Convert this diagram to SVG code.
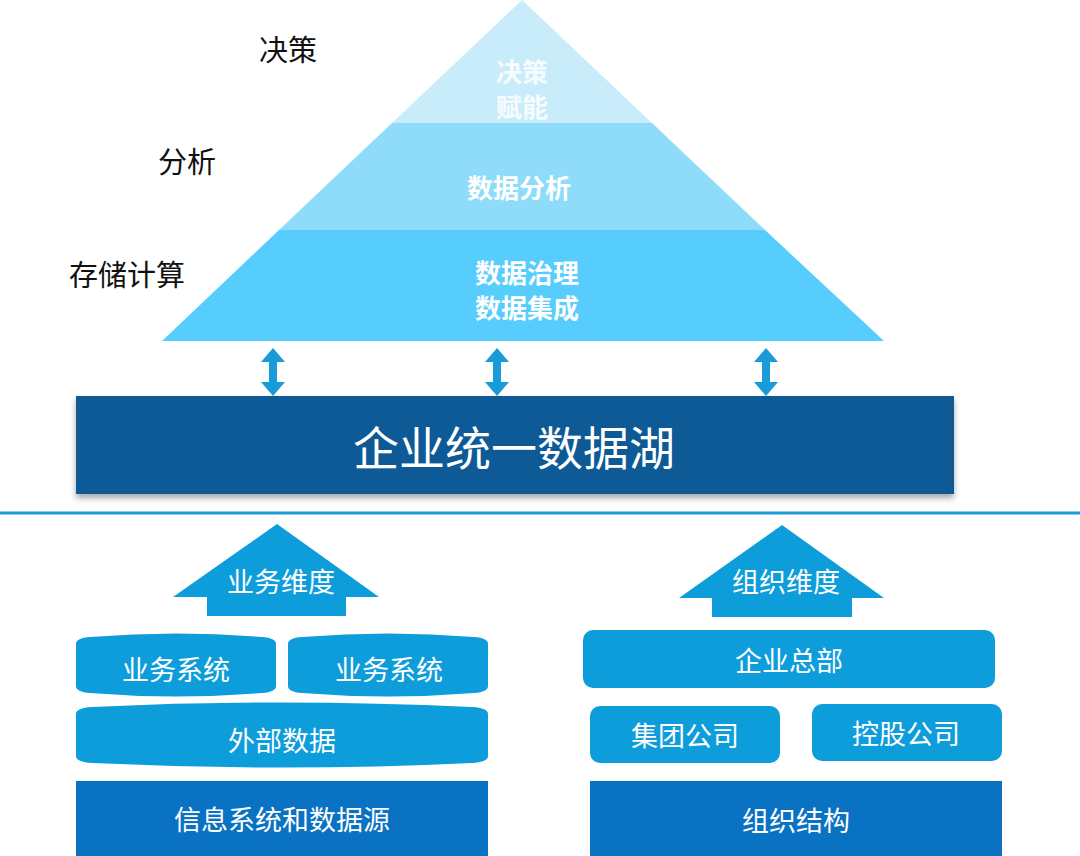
<svg xmlns="http://www.w3.org/2000/svg" width="1080" height="856" viewBox="0 0 1080 856">
<defs>
<style>
text{font-family:"Noto Sans CJK SC","Noto Sans",sans-serif;text-anchor:middle;dominant-baseline:central}
.lbl{fill:#111;font-size:29px}
.pyr{fill:#fff;font-size:26px;font-weight:bold}
.w{fill:#fff;font-size:27px}
.mid{fill:#0e9ddb}
.deep{fill:#0a72c2}
.arr{fill:#189bd8}
</style>
<filter id="sh" x="-5%" y="-20%" width="110%" height="150%">
<feDropShadow dx="0" dy="4" stdDeviation="3" flood-color="#000" flood-opacity="0.35"/>
</filter>
</defs>
<g id="labels">
<text class="lbl" x="288" y="48">决策</text>
<text class="lbl" x="187" y="160">分析</text>
<text class="lbl" x="127" y="273">存储计算</text>
</g>
<g id="pyramid">
<polygon points="522,0 652,123 392,123" fill="#c9ecfa"/>
<polygon points="392,123 652,123 765,230 279,230" fill="#8fdcfa"/>
<polygon points="279,230 765,230 884,341 162,341" fill="#56cdfc"/>
<text class="pyr" x="522" y="70" fill-opacity="0.85">决策</text>
<text class="pyr" x="522" y="105" fill-opacity="0.85">赋能</text>
<text class="pyr" x="519" y="186" font-size="27">数据分析</text>
<text class="pyr" x="527" y="271">数据治理</text>
<text class="pyr" x="527" y="306">数据集成</text>
</g>
<g id="connectors">
<path class="arr" d="M273,348 L285,362 L277,362 L277,382 L285,382 L273,396 L261,382 L269,382 L269,362 L261,362 Z"/>
<path class="arr" d="M497,348 L509,362 L501,362 L501,382 L509,382 L497,396 L485,382 L493,382 L493,362 L485,362 Z"/>
<path class="arr" d="M766,348 L778,362 L770,362 L770,382 L778,382 L766,396 L754,382 L762,382 L762,362 L754,362 Z"/>
</g>
<g id="lake">
<rect x="76" y="396" width="878" height="98" fill="#0b5a97" filter="url(#sh)"/>
<text x="514" y="445" fill="#fff" font-size="46">企业统一数据湖</text>
</g>
<g id="divider">
<line x1="0" y1="513" x2="1080" y2="513" stroke="#1e9ad6" stroke-width="3"/>
</g>
<g id="biz-dim">
<polygon class="mid" points="277,524 379,597 346,597 346,616 207,616 207,597 173,597"/>
<text class="w" x="281" y="580" font-size="25">业务维度</text>
</g>
<g id="biz-sys-1">
<path class="mid" d="M76,644 Q76,638 90,637 Q176,630 262,637 Q276,638 276,644 L276,686 Q276,692 262,693 Q176,700 90,693 Q76,692 76,686 Z"/>
<text class="w" x="176" y="668">业务系统</text>
</g>
<g id="biz-sys-2">
<path class="mid" d="M288,644 Q288,638 302,637 Q388,630 474,637 Q488,638 488,644 L488,686 Q488,692 474,693 Q388,700 302,693 Q288,692 288,686 Z"/>
<text class="w" x="389" y="668">业务系统</text>
</g>
<g id="ext-data">
<path class="mid" d="M76,714 Q76,708 92,707 Q282,698 472,707 Q488,708 488,714 L488,756 Q488,762 472,763 Q282,772 92,763 Q76,762 76,756 Z"/>
<text class="w" x="282" y="739">外部数据</text>
</g>
<g id="info-src">
<rect class="deep" x="76" y="781" width="412" height="75"/>
<text class="w" x="282" y="818" font-size="28">信息系统和数据源</text>
</g>
<g id="org-dim">
<polygon class="mid" points="782,525 884,598 852,598 852,617 712,617 712,598 679,598"/>
<text class="w" x="786" y="580" font-size="25">组织维度</text>
</g>
<g id="hq">
<rect class="mid" x="583" y="630" width="412" height="58" rx="10"/>
<text class="w" x="789" y="659">企业总部</text>
</g>
<g id="group-co">
<rect class="mid" x="590" y="706" width="190" height="57" rx="10"/>
<text class="w" x="685" y="734">集团公司</text>
</g>
<g id="holding-co">
<rect class="mid" x="812" y="704" width="190" height="57" rx="10"/>
<text class="w" x="906" y="732">控股公司</text>
</g>
<g id="org-struct">
<rect class="deep" x="590" y="781" width="412" height="75"/>
<text class="w" x="796" y="819" font-size="28">组织结构</text>
</g>
</svg>
